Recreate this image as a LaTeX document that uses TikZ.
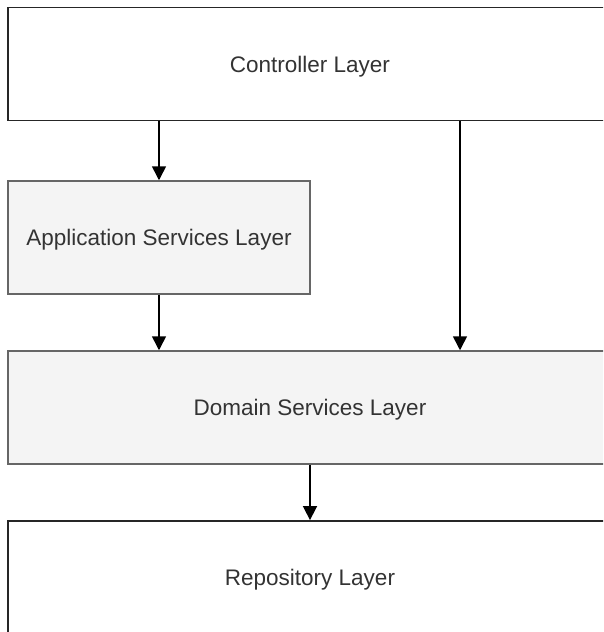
\documentclass[tikz,border=0pt]{standalone}
\usepackage{fontspec}
\setmainfont{Liberation Sans}
\usetikzlibrary{arrows.meta}
\definecolor{txt}{HTML}{333333}
\definecolor{panel}{HTML}{F4F4F4}
\definecolor{edge}{HTML}{666666}
\tikzset{
  plainbox/.style={draw=black!85, line width=1.8pt, fill=white, text=txt,
    font=\fontsize{22.5}{26}\selectfont, inner sep=0pt, text depth=0pt},
  greybox/.style={draw=edge, line width=1.5pt, fill=panel, text=txt,
    font=\fontsize{22.5}{26}\selectfont, inner sep=0pt, text depth=0pt},
  flow/.style={-{Triangle[length=14pt,width=14pt]}, line width=1.6pt, black}
}
\begin{document}
\begin{tikzpicture}[x=1pt,y=-1pt]
  \useasboundingbox (0,0) rectangle (603,632);
  \clip (0,0) rectangle (603,632);
  % layers
  \node[plainbox, minimum width=604pt, minimum height=113pt] (ctrl) at (310,64) {Controller Layer};
  \node[greybox, minimum width=302pt, minimum height=113pt] (app) at (159,237.5) {Application Services Layer};
  \node[greybox, minimum width=604pt, minimum height=113pt] (dom) at (310,407.5) {Domain Services Layer};
  \node[plainbox, minimum width=604pt, minimum height=113pt] (repo) at (310,577.5) {Repository Layer};
  % dependencies
  \draw[flow] (ctrl.south -| app) -- (app.north);
  \draw[flow] (app.south) -- (app.south |- dom.north);
  \coordinate (ctrlR) at (460,0);
  \draw[flow] (ctrl.south -| ctrlR) -- (dom.north -| ctrlR);
  \draw[flow] (dom.south) -- (repo.north);
\end{tikzpicture}
\end{document}
